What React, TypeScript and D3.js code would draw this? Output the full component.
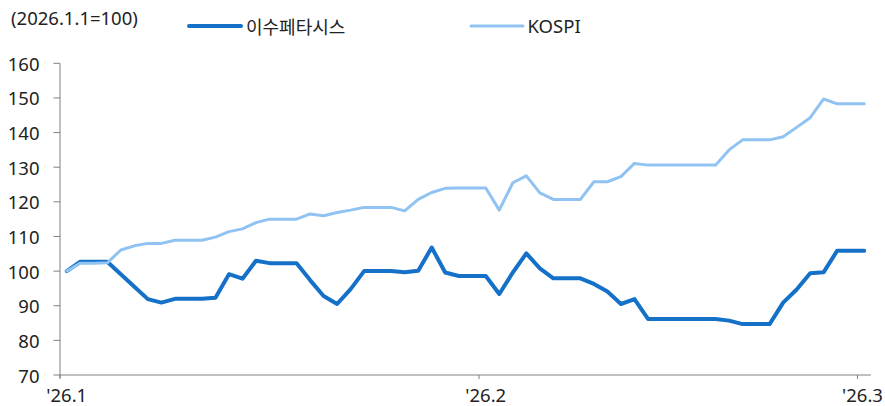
import React from "react";
import * as d3 from "d3";

const seriesNames = ["이수페타시스", "KOSPI"];
const startDate = new Date(2026, 0, 1);
const endDate = new Date(2026, 2, 2);
const dates = d3.timeDay.range(startDate, endDate); // 2026-01-01 .. 2026-03-01

const isu = [
  100.0, 102.7, 102.7, 102.7, 99.1, 95.5, 91.9, 90.9, 92.0, 92.0,
  92.0, 92.3, 99.1, 97.8, 103.0, 102.3, 102.3, 102.3, 97.4, 92.8,
  90.5, 94.8, 100.0, 100.0, 100.0, 99.7, 100.1, 106.8, 99.6, 98.6,
  98.6, 98.6, 93.4, 99.6, 105.1, 100.8, 97.9, 97.9, 97.9, 96.3,
  94.1, 90.5, 91.9, 86.2, 86.2, 86.2, 86.2, 86.2, 86.2, 85.7,
  84.7, 84.7, 84.7, 90.9, 94.7, 99.4, 99.7, 105.9, 105.9, 105.9,
];
const kospi = [
  100.0, 102.3, 102.3, 102.4, 106.1, 107.3, 108.0, 108.0, 108.9, 108.9,
  108.9, 109.8, 111.4, 112.2, 114.0, 115.0, 115.0, 115.0, 116.5, 116.0,
  116.9, 117.6, 118.4, 118.4, 118.4, 117.4, 120.7, 122.7, 123.9, 124.0,
  124.0, 124.0, 117.6, 125.5, 127.5, 122.6, 120.7, 120.7, 120.7, 125.8,
  125.8, 127.3, 131.1, 130.6, 130.6, 130.6, 130.6, 130.6, 130.6, 135.0,
  137.9, 137.9, 137.9, 138.8, 141.5, 144.3, 149.7, 148.3, 148.3, 148.3,
];
const yTicks = [70, 80, 90, 100, 110, 120, 130, 140, 150, 160];
const xTickDates = [new Date(2026, 0, 1), new Date(2026, 1, 1), new Date(2026, 2, 1)];
const xTickLabels = ["'26.1", "'26.2", "'26.3"];
const unitLabel = "(2026.1.1=100)";

const W = 885;
const H = 406;
const DARK = "#1571c8";
const LIGHT = "#90c3f2";
const AXIS = "#808080";
const TXT = "#222";
const FONT = "'Noto Sans', 'Noto Sans CJK KR', sans-serif";

export default function App() {
  const x = d3.scaleTime().domain([startDate, endDate]).range([60, 871]);
  const y = d3.scaleLinear().domain([70, 160]).range([375, 63.3]);
  const mid = (d: Date) => d3.timeHour.offset(d, 12);

  const line = d3
    .line<number>()
    .x((_, i) => x(mid(dates[i])))
    .y((v) => y(v));

  return (
    <svg
      width={W}
      height={H}
      style={{ position: "absolute", left: 0, top: 0, background: "#fff" }}
      fontFamily={FONT}
    >
      {/* unit label */}
      <text x={11} y={25} fontSize={18.5} fill={TXT}>
        {unitLabel}
      </text>

      {/* legend */}
      <line x1={189} x2={241} y1={26} y2={26} stroke={DARK} strokeWidth={4} strokeLinecap="round" />
      <text x={246} y={25.5} fontSize={18} fill={TXT} dominantBaseline="central" fontFamily="'Noto Sans CJK KR', sans-serif">
        {seriesNames[0]}
      </text>
      <line x1={471} x2={523} y1={26} y2={26} stroke={LIGHT} strokeWidth={3} strokeLinecap="round" />
      <text x={527.5} y={25.5} fontSize={18.5} fill={TXT} dominantBaseline="central">
        {seriesNames[1]}
      </text>

      {/* y axis */}
      <line x1={60} x2={60} y1={y(160)} y2={378} stroke={AXIS} strokeWidth={1} />
      {yTicks.map((t) => (
        <g key={t}>
          <line x1={53.5} x2={60} y1={y(t)} y2={y(t)} stroke={AXIS} strokeWidth={1} />
          <text x={39.5} y={y(t)} fontSize={18.5} fill={TXT} textAnchor="end" dominantBaseline="central">
            {t}
          </text>
        </g>
      ))}

      {/* x axis */}
      <line x1={60} x2={871} y1={y(70)} y2={y(70)} stroke={AXIS} strokeWidth={1} />
      {xTickDates.map((d, i) => (
        <g key={i}>
          <line x1={x(d)} x2={x(d)} y1={y(70)} y2={y(70) + 4} stroke={AXIS} strokeWidth={1} />
          <text
            x={Math.min(x(mid(d)), 862.5)}
            y={402}
            fontSize={18.5}
            fill={TXT}
            textAnchor="middle"
          >
            {xTickLabels[i]}
          </text>
        </g>
      ))}

      {/* series */}
      <path d={line(isu) || ""} fill="none" stroke={DARK} strokeWidth={4} strokeLinejoin="round" strokeLinecap="round" />
      <path d={line(kospi) || ""} fill="none" stroke={LIGHT} strokeWidth={3} strokeLinejoin="round" strokeLinecap="round" />
    </svg>
  );
}
